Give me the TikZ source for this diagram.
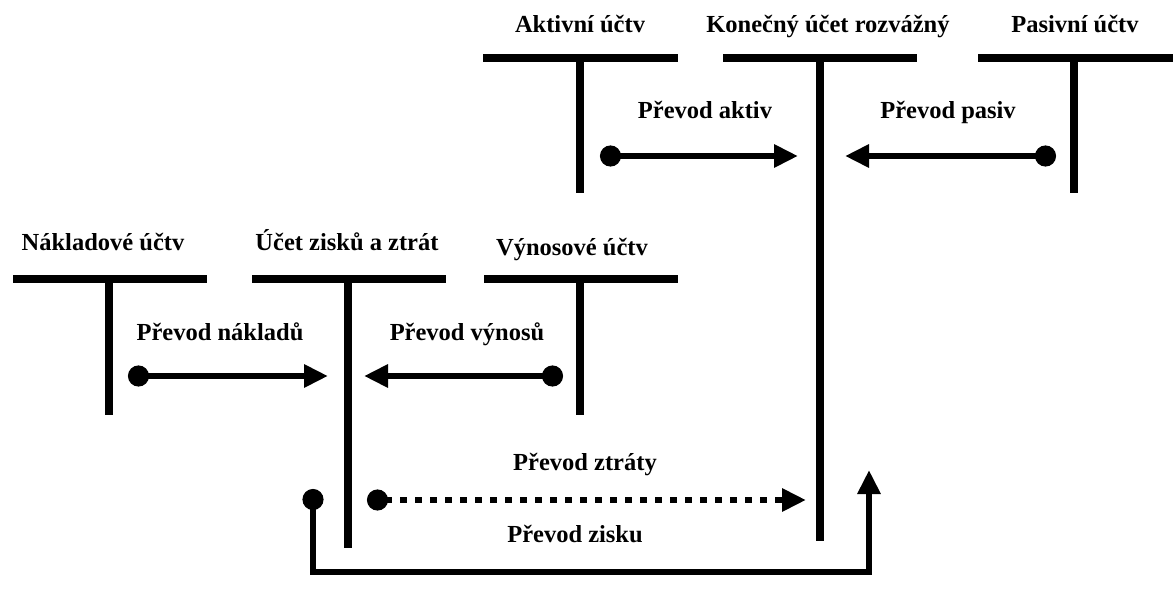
\documentclass[tikz,border=0pt]{standalone}
\usepackage{fontspec}
\setmainfont{Liberation Serif}
\usetikzlibrary{arrows.meta}
\begin{document}
\begin{tikzpicture}[x=1pt,y=-1pt,
  lbl/.style={font=\fontsize{24.5}{28}\selectfont\bfseries, anchor=base, inner sep=0pt},
  tbar/.style={line width=7.5pt, line cap=butt},
  tstem/.style={line width=7.5pt, line cap=butt},
  flow/.style={line width=6pt, {Circle[length=21pt,width=21pt]}-{Triangle[length=24pt,width=22pt]}},
  flowdash/.style={flow, dash pattern=on 7pt off 8pt},
  profit/.style={line width=6pt, line join=miter, {Circle[length=21pt,width=21pt]}-{Triangle[length=24pt,width=22pt]}}
]
\useasboundingbox (0,0) rectangle (1173,599);

% ---- T-accounts, upper row
\coordinate (aL) at (483,58);  \coordinate (aR) at (678,58);
\coordinate (aT) at (580,58);  \coordinate (aB) at (580,193);
\coordinate (kL) at (723,58);  \coordinate (kR) at (917,58);
\coordinate (kT) at (820,58);  \coordinate (kB) at (820,541);
\coordinate (pL) at (978,58);  \coordinate (pR) at (1173,58);
\coordinate (pT) at (1074,58); \coordinate (pB) at (1074,193);
\draw[tbar] (aL) -- (aR);  \draw[tstem] (aT) -- (aB);
\draw[tbar] (kL) -- (kR);  \draw[tstem] (kT) -- (kB);
\draw[tbar] (pL) -- (pR);  \draw[tstem] (pT) -- (pB);

% ---- T-accounts, lower row
\coordinate (nL) at (13,279);  \coordinate (nR) at (207,279);
\coordinate (nT) at (109,279); \coordinate (nB) at (109,415);
\coordinate (zL) at (252,279); \coordinate (zR) at (446,279);
\coordinate (zT) at (348,279); \coordinate (zB) at (348,548);
\coordinate (vL) at (484,279); \coordinate (vR) at (678,279);
\coordinate (vT) at (580,279); \coordinate (vB) at (580,415);
\draw[tbar] (nL) -- (nR);  \draw[tstem] (nT) -- (nB);
\draw[tbar] (zL) -- (zR);  \draw[tstem] (zT) -- (zB);
\draw[tbar] (vL) -- (vR);  \draw[tstem] (vT) -- (vB);

% ---- account titles
\node[lbl] (tA) at (580,33) {Aktivní účtv};
\node[lbl] (tK) at (828,33) {Konečný účet rozvážný};
\node[lbl] (tP) at (1075,33) {Pasivní účtv};
\node[lbl] (tN) at (103,250) {Nákladové účtv};
\node[lbl] (tZ) at (347,250) {Účet zisků a ztrát};
\node[lbl] (tV) at (572,255) {Výnosové účtv};

% ---- transfer labels
\node[lbl] (lA)  at (705,119) {Převod aktiv};
\node[lbl] (lP)  at (948,119) {Převod pasiv};
\node[lbl] (lN)  at (220,340) {Převod nákladů};
\node[lbl] (lV)  at (467,340) {Převod výnosů};
\node[lbl] (lZt) at (585,470) {Převod ztráty};
\node[lbl] (lZs) at (575,542) {Převod zisku};

% ---- transfer arrows
\coordinate (a1) at (600,156);  \coordinate (a2) at (798,156);
\coordinate (p1) at (1056,156); \coordinate (p2) at (845,156);
\coordinate (n1) at (128,376);  \coordinate (n2) at (328,376);
\coordinate (v1) at (563,376);  \coordinate (v2) at (364,376);
\coordinate (d1) at (367,500);  \coordinate (d2) at (806,500);
\draw[flow] (a1) -- (a2);
\draw[flow] (p1) -- (p2);
\draw[flow] (n1) -- (n2);
\draw[flow] (v1) -- (v2);
\draw[flowdash] (d1) -- (d2);

% ---- profit transfer loop
\coordinate (s1) at (313,489);
\coordinate (s2) at (313,572);
\coordinate (s3) at (869,572);
\coordinate (s4) at (869,470);
\draw[profit] (s1) -- (s2) -- (s3) -- (s4);
\end{tikzpicture}
\end{document}
